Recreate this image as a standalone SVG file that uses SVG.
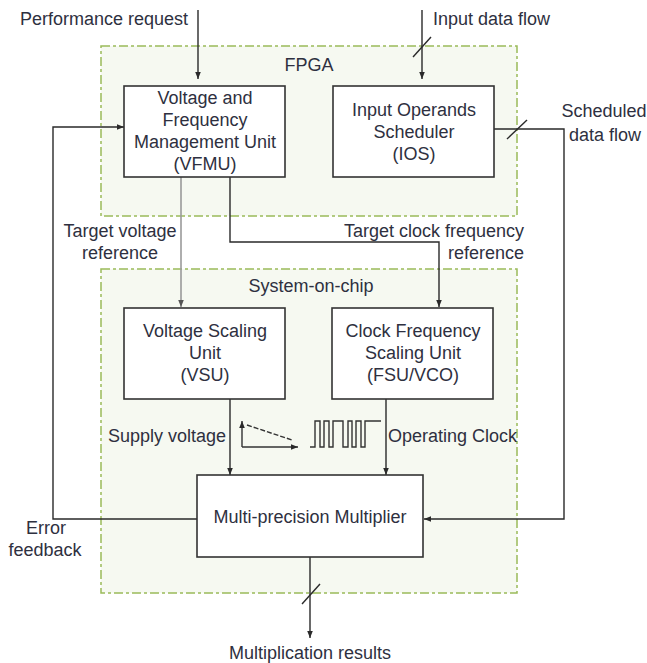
<svg xmlns="http://www.w3.org/2000/svg" width="647" height="663" viewBox="0 0 647 663">
  <defs>
    <style>
      text { font-family: "Liberation Sans", Arial, sans-serif; font-size: 18px; fill: #2e3040; }
      .mid { text-anchor: middle; }
      .end { text-anchor: end; }
      .region { fill: #f6f9f1; stroke: #9bbb59; stroke-width: 1.5; stroke-dasharray: 9 3 3 3; }
      .box { fill: #ffffff; stroke: #333333; stroke-width: 1.6; }
      .wire { fill: none; stroke: #2a2a2a; stroke-width: 1.4; }
      .gray { fill: none; stroke: #9a9a9a; stroke-width: 1.6; }
      .icon { fill: none; stroke: #333333; stroke-width: 1.4; }
    </style>
    <marker id="arr" viewBox="0 0 10 10" refX="10" refY="5" markerWidth="7" markerHeight="7" markerUnits="userSpaceOnUse" orient="auto">
      <path d="M0,1 L10,5 L0,9 z" fill="#2a2a2a"/>
    </marker>
    <marker id="arrg" viewBox="0 0 10 10" refX="10" refY="5" markerWidth="7" markerHeight="7" markerUnits="userSpaceOnUse" orient="auto">
      <path d="M0,1 L10,5 L0,9 z" fill="#555555"/>
    </marker>
  </defs>

  <rect width="647" height="663" fill="#ffffff"/>

  <g id="fpga">
    <rect class="region" x="101" y="46" width="416" height="170"/>
    <text class="mid" x="309" y="71">FPGA</text>
  </g>
  <g id="soc">
    <rect class="region" x="101" y="269" width="416" height="324"/>
    <text class="mid" x="311" y="292">System-on-chip</text>
  </g>

  <g id="connectors">
    <line class="wire" x1="198" y1="10" x2="198" y2="79" marker-end="url(#arr)"/>
    <line class="wire" x1="422" y1="10" x2="422" y2="79" marker-end="url(#arr)"/>
    <line class="wire" x1="413" y1="57" x2="431" y2="37"/>
    <polyline class="wire" points="494,129 564,129 564,519 424,519" marker-end="url(#arr)"/>
    <line class="wire" x1="507" y1="139" x2="527" y2="120"/>
    <polyline class="wire" points="197,519 53,519 53,127 124,127" marker-end="url(#arr)"/>
    <line class="gray" x1="181" y1="177" x2="181" y2="307" marker-end="url(#arrg)"/>
    <polyline class="wire" points="230,177 230,242 439,242 439,307" marker-end="url(#arr)"/>
    <line class="wire" x1="230" y1="399" x2="230" y2="475" marker-end="url(#arr)"/>
    <line class="wire" x1="386" y1="399" x2="386" y2="475" marker-end="url(#arr)"/>
    <line class="wire" x1="310" y1="557" x2="310" y2="638" marker-end="url(#arr)"/>
    <line class="wire" x1="302" y1="604" x2="320" y2="584"/>
  </g>

  <g id="vfmu">
    <rect class="box" x="124" y="86" width="161" height="91"/>
    <text class="mid" x="205" y="104">Voltage and</text>
    <text class="mid" x="205" y="126">Frequency</text>
    <text class="mid" x="205" y="148">Management Unit</text>
    <text class="mid" x="205" y="170">(VFMU)</text>
  </g>
  <g id="ios">
    <rect class="box" x="333" y="86" width="161" height="91"/>
    <text class="mid" x="414" y="116">Input Operands</text>
    <text class="mid" x="414" y="138">Scheduler</text>
    <text class="mid" x="414" y="160">(IOS)</text>
  </g>
  <g id="vsu">
    <rect class="box" x="124" y="308" width="161" height="91"/>
    <text class="mid" x="205" y="337">Voltage Scaling</text>
    <text class="mid" x="205" y="359">Unit</text>
    <text class="mid" x="205" y="381">(VSU)</text>
  </g>
  <g id="fsu">
    <rect class="box" x="332" y="308" width="161" height="91"/>
    <text class="mid" x="413" y="337">Clock Frequency</text>
    <text class="mid" x="413" y="359">Scaling Unit</text>
    <text class="mid" x="413" y="381">(FSU/VCO)</text>
  </g>
  <g id="multiplier">
    <rect class="box" x="197" y="475" width="226" height="82"/>
    <text class="mid" x="310" y="523">Multi-precision Multiplier</text>
  </g>

  <g id="icons">
    <line class="icon" x1="242" y1="447" x2="242" y2="421" marker-end="url(#arr)"/>
    <line class="icon" x1="242" y1="447" x2="298" y2="447" marker-end="url(#arr)"/>
    <line class="icon" x1="247" y1="425" x2="292" y2="440" stroke-dasharray="5 2"/>
    <polyline class="icon" points="310,447 315,447 315,421 320,421 320,447 324,447 324,421 329,421 329,447 333,447 333,421 343,421 343,447 348,447 348,421 352,421 352,447 356,447 356,421 361,421 361,447 365,447 365,421 381,421"/>
  </g>

  <g id="labels">
    <text x="20" y="25">Performance request</text>
    <text x="433" y="25">Input data flow</text>
    <text class="mid" x="604" y="117">Scheduled</text>
    <text class="mid" x="605" y="141">data flow</text>
    <text class="mid" x="120" y="237">Target voltage</text>
    <text class="mid" x="120" y="259">reference</text>
    <text class="end" x="524" y="237">Target clock frequency</text>
    <text class="end" x="524" y="259">reference</text>
    <text x="108" y="442">Supply voltage</text>
    <text x="388" y="442">Operating Clock</text>
    <text class="mid" x="46" y="534">Error</text>
    <text class="mid" x="45" y="556">feedback</text>
    <text class="mid" x="310" y="659">Multiplication results</text>
  </g>
</svg>
